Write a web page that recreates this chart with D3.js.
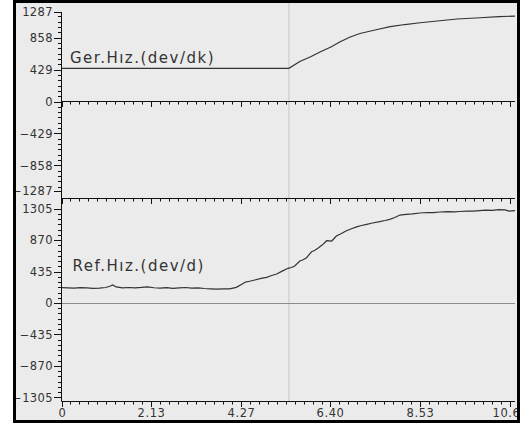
<!DOCTYPE html>
<html><head><meta charset="utf-8">
<script src="https://cdn.jsdelivr.net/npm/d3@7"></script>
<style>body{margin:0;background:#fff}svg{display:block}</style>
</head><body><svg id="c" width="521" height="423"></svg>
<script>
// ---------- data ----------
const xTicks = [0, 2.1333, 4.2667, 6.4, 8.5333, 10.6667];
const xTickLabels = ["0", "2.13", "4.27", "6.40", "8.53", "10.67"];
const topTicks = [-1287, -858, -429, 0, 429, 858, 1287];
const botTicks = [-1305, -870, -435, 0, 435, 870, 1305];
const cursorT = 5.41;
const gerLabel = "Ger.Hız.(dev/dk)";
const refLabel = "Ref.Hız.(dev/d)";

const gerT = [0, 5.41, 5.67, 5.94, 6.15, 6.41, 6.63, 6.87, 7.10, 7.46, 7.82, 8.17, 8.53, 9.0, 9.41, 9.96, 10.41, 10.79];
const gerV = [445, 445, 536, 603, 664, 731, 802, 865, 912, 959, 1003, 1032, 1056, 1083, 1106, 1123, 1137, 1146];

const refT = [0, 0.15, 0.3, 0.45, 0.6, 0.75, 0.9, 1.05, 1.15, 1.22, 1.3, 1.45, 1.6, 1.75, 1.9, 2.05, 2.2, 2.35, 2.5, 2.65, 2.8, 2.95, 3.1, 3.25, 3.4, 3.55, 3.7, 3.85, 4.0, 4.16, 4.3, 4.38, 4.43, 4.6, 4.75, 4.88, 5.0, 5.12, 5.25, 5.39, 5.47, 5.55, 5.67, 5.75, 5.83, 5.95, 6.02, 6.10, 6.2, 6.31, 6.43, 6.54, 6.66, 6.78, 6.9, 7.02, 7.14, 7.26, 7.4, 7.57, 7.7, 7.81, 7.93, 8.05, 8.2, 8.35, 8.53, 8.7, 8.85, 9.0, 9.2, 9.35, 9.48, 9.65, 9.8, 9.95, 10.1, 10.25, 10.4, 10.55, 10.65, 10.79];
const refV = [211, 208, 205, 211, 209, 203, 206, 214, 232, 250, 222, 208, 214, 210, 216, 224, 211, 206, 212, 203, 210, 214, 206, 210, 200, 196, 193, 195, 196, 216, 262, 290, 294, 318, 340, 355, 380, 400, 440, 479, 490, 511, 580, 598, 626, 708, 725, 755, 800, 860, 856, 925, 960, 998, 1025, 1052, 1070, 1087, 1105, 1123, 1140, 1156, 1180, 1215, 1225, 1232, 1243, 1250, 1247, 1257, 1262, 1258, 1264, 1270, 1268, 1277, 1282, 1279, 1290, 1286, 1270, 1275];

// ---------- chart ----------
const svg = d3.select("#c");
svg.append("rect").attr("x", 13).attr("y", 0).attr("width", 507).attr("height", 423).attr("fill", "#ebebeb");

const x = d3.scaleLinear().domain([0, 10.79]).range([61.5, 515]);
const yTop = d3.scaleLinear().domain([-1200, 1200]).range([191, 12]).clamp(true);
const yBot = d3.scaleLinear().domain([-1326, 1326]).range([399, 207]);

const FONT = "DejaVu Sans";
const INK = "#111";
const px = v => Math.round(v) + 0.5;

// cursor line
svg.append("line").attr("x1", x(cursorT)).attr("x2", x(cursorT)).attr("y1", 3).attr("y2", 401)
  .attr("stroke", "#d2d2d2").attr("stroke-width", 1.5);

// bottom zero line
svg.append("line").attr("x1", x(0)).attr("x2", 515).attr("y1", px(yBot(0))).attr("y2", px(yBot(0)))
  .attr("stroke", "#8c8c8c").attr("stroke-width", 1);

// x-axis minor tick values
const xStep = xTicks[1] / 10;
const xMinor = d3.range(1, 51).map(i => i * xStep).filter(v => v < 10.79 && !xTicks.some(t => Math.abs(t - v) < 1e-3));

function xAxisAt(yPos, withLabels) {
  const g = svg.append("g");
  g.append("line").attr("x1", x(0)).attr("x2", 515).attr("y1", yPos + 0.5).attr("y2", yPos + 0.5).attr("stroke", INK);
  g.selectAll("line.mn").data(xMinor).join("line").attr("class", "mn")
    .attr("x1", d => px(x(d))).attr("x2", d => px(x(d))).attr("y1", yPos).attr("y2", yPos + 3.5)
    .attr("stroke", INK);
  g.selectAll("line.mj").data(xTicks).join("line").attr("class", "mj")
    .attr("x1", d => px(x(d))).attr("x2", d => px(x(d))).attr("y1", yPos).attr("y2", yPos + 6)
    .attr("stroke", INK);
  if (withLabels) {
    g.selectAll("text").data(xTicks).join("text")
      .attr("x", d => px(x(d))).attr("y", yPos + 16).attr("text-anchor", "middle")
      .text((d, i) => xTickLabels[i])
      .attr("font-family", FONT).attr("font-size", 11.5).attr("letter-spacing", 0.6).attr("fill", "#333");
  }
  return g;
}
xAxisAt(101, false);
xAxisAt(198, false);
const bx = xAxisAt(401, true);
svg.append("clipPath").attr("id", "clipR").append("rect").attr("x", 0).attr("y", 0).attr("width", 517).attr("height", 423);
bx.attr("clip-path", "url(#clipR)");

function yAxis(scale, ticks, limit) {
  const top = ticks[ticks.length - 1];
  const step = top / 3 / 6;
  const minor = d3.range(-18, 19).map(i => i * step)
    .filter(v => Math.abs(v) <= limit && !ticks.some(t => Math.abs(t - v) < 1));
  const g = svg.append("g");
  g.selectAll("line.mn").data(minor).join("line").attr("class", "mn")
    .attr("x1", 58).attr("x2", 62).attr("y1", d => px(scale(d))).attr("y2", d => px(scale(d)))
    .attr("stroke", INK);
  g.selectAll("line.mj").data(ticks).join("line").attr("class", "mj")
    .attr("x1", 54).attr("x2", 62).attr("y1", d => px(scale(d))).attr("y2", d => px(scale(d)))
    .attr("stroke", INK);
  g.selectAll("text").data(ticks).join("text")
    .attr("x", 53).attr("y", d => scale(d)).attr("dy", "0.36em").attr("text-anchor", "end")
    .text(d3.format("d"))
    .attr("font-family", FONT).attr("font-size", 11.5).attr("letter-spacing", 0.4).attr("fill", "#333");
}
yAxis(yTop, topTicks, 1200);
yAxis(yBot, botTicks, 1326);

// vertical axis line
svg.append("line").attr("x1", 61.5).attr("x2", 61.5).attr("y1", 12).attr("y2", 401.5).attr("stroke", INK);

// data lines
const lineTop = d3.line().x((d, i) => x(gerT[i])).y(d => yTop(d));
svg.append("path").attr("d", lineTop(gerV)).attr("fill", "none").attr("stroke", "#333").attr("stroke-width", 1.2);
const lineBot = d3.line().x((d, i) => x(refT[i])).y(d => yBot(d));
svg.append("path").attr("d", lineBot(refV)).attr("fill", "none").attr("stroke", "#333").attr("stroke-width", 1.2);

// series labels
svg.append("text").attr("x", 70).attr("y", 63).text(gerLabel)
  .attr("font-family", FONT).attr("font-size", 15).attr("letter-spacing", 1.5).attr("fill", "#333");
svg.append("text").attr("x", 72.5).attr("y", 271).text(refLabel)
  .attr("font-family", FONT).attr("font-size", 15).attr("letter-spacing", 1.5).attr("fill", "#333");

// outer border
svg.append("rect").attr("x", 14.5).attr("y", 1.5).attr("width", 504).attr("height", 420)
  .attr("fill", "none").attr("stroke", "#000").attr("stroke-width", 3);
</script></body></html>
